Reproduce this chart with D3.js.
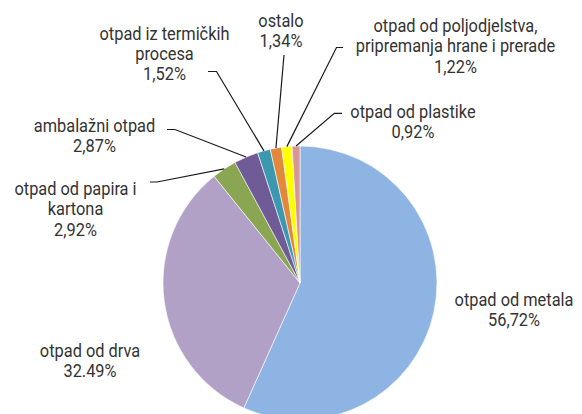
<!DOCTYPE html>
<meta charset="utf-8">
<style>
body{margin:0;background:#fff;}
svg{display:block;}
.lbl{font-family:Roboto,"Liberation Sans",sans-serif;font-size:18px;fill:#333;}
.leader{fill:none;stroke:#1a1a1a;stroke-width:1.2;}
</style>
<svg width="582" height="414"></svg>
<script src="https://d3js.org/d3.v7.min.js"></script>
<script>
// data
var categories = ["otpad od metala","otpad od drva","otpad od papira i kartona","ambalažni otpad",
  "otpad iz termičkih procesa","ostalo","otpad od poljodjelstva, pripremanja hrane i prerade","otpad od plastike"];
var values = [56.72, 32.49, 2.92, 2.87, 1.52, 1.34, 1.22, 0.92];
var pctText = ["56,72%","32.49%","2,92%","2,87%","1,52%","1,34%","1,22%","0,92%"];
var labelLines = [
  ["otpad od metala"],
  ["otpad od drva"],
  ["otpad od papira i","kartona"],
  ["ambalažni otpad"],
  ["otpad iz termičkih","procesa"],
  ["ostalo"],
  ["otpad od poljodjelstva,","pripremanja hrane i prerade"],
  ["otpad od plastike"]
];
var colors = ["#8db4e2","#b2a1c7","#8ba652","#6f5b96","#3b98b0","#e3873c","#ffff00","#d99694"];

// label placement (centre x, first baseline y) and leader elbow, null = no leader
var labelPos = [[514,306],[90,357],[75.5,195],[94.5,132],[164.5,39.5],[281,26.5],[455.5,32],[413,118]];
var elbows = [null,null,[[150,182],[157,182]],[[167,129.5],[175,129.5]],[[208,71.5],[216.5,71.5]],
  [[284,55]],[[343,47.5],[336.5,47.5]],[[342,113.3],[334.3,113.3]]];

var svg = d3.select("svg");
var cx = 300, cy = 283, r = 137;
var g = svg.append("g").attr("transform","translate("+cx+","+cy+")");

var pie = d3.pie().sort(null).value(function(d){return d;});
var arcs = pie(values);
var arc = d3.arc().innerRadius(0).outerRadius(r);

g.selectAll("path.slice").data(arcs).enter().append("path")
  .attr("class","slice")
  .attr("d",arc)
  .attr("fill",function(d,i){return colors[i];})
  .attr("stroke","#fff")
  .attr("stroke-width",0.6);

// leader lines
arcs.forEach(function(d,i){
  if(!elbows[i]) return;
  var a = (d.startAngle+d.endAngle)/2;
  var p = [cx + r*Math.sin(a), cy - r*Math.cos(a)];
  var pts = elbows[i].concat([p]);
  svg.append("path").attr("class","leader").attr("d",d3.line()(pts));
});

// labels (condensed look: squeeze horizontally)
labelLines.forEach(function(lines,i){
  var t = svg.append("text").attr("class","lbl").attr("text-anchor","middle")
    .attr("transform","translate("+labelPos[i][0]+","+labelPos[i][1]+") scale(0.91,1)");
  lines.concat([pctText[i]]).forEach(function(s,k){
    t.append("tspan").attr("x",0).attr("y",k*20.4).text(s);
  });
});
</script>
